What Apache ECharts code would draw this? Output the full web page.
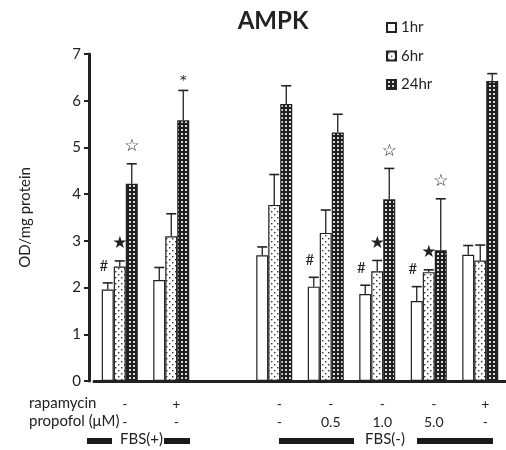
<!DOCTYPE html>
<html>
<head>
<meta charset="utf-8">
<script src="https://cdn.jsdelivr.net/npm/echarts@6/dist/echarts.min.js"></script>
<style>
  html, body { margin: 0; padding: 0; background: #fff; }
  #chart { width: 506px; height: 450px; }
</style>
</head>
<body>
<div id="chart"></div>
<script>
// groups (third slot is the empty gap between FBS(+) and FBS(-))
const rapamycin = ["-", "+", "", "-", "-", "-", "-", "+"];
const propofol = ["-", "-", "", "-", "0.5", "1.0", "5.0", "-"];
const seriesNames = ["1hr", "6hr", "24hr"];

const val1hr = [1.96, 2.16, "-", 2.69, 2.02, 1.86, 1.71, 2.70];
const val6hr = [2.45, 3.10, "-", 3.77, 3.17, 2.35, 2.33, 2.58];
const val24hr = [4.22, 5.58, "-", 5.93, 5.32, 3.89, 2.80, 6.42];

const err1hr = [2.10, 2.43, "-", 2.87, 2.22, 2.05, 2.02, 2.90];
const err6hr = [2.57, 3.58, "-", 4.42, 3.66, 2.58, 2.38, 2.91];
const err24hr = [4.65, 6.22, "-", 6.32, 5.71, 4.55, 3.90, 6.58];

const mark1hr = ["#", "", "", "", "#", "#", "#", ""];
const mark6hr = ["★", "", "", "", "", "★", "★", ""];
const mark24hr = ["☆", "*", "", "", "", "☆", "☆", ""];

const font = "Lato, 'Open Sans', sans-serif";

function makePattern(w, h, bg, fg, dots) {
  const c = document.createElement("canvas");
  c.width = w; c.height = h;
  const g = c.getContext("2d");
  g.fillStyle = bg;
  g.fillRect(0, 0, w, h);
  g.fillStyle = fg;
  dots.forEach(d => g.fillRect(d[0], d[1], d[2], d[3]));
  return { image: c, repeat: "repeat" };
}

const dotted = makePattern(6, 6, "#ffffff", "#333333", [[1, 1, 1.4, 1.4], [4, 4, 1.4, 1.4]]);
const dark = makePattern(4, 4, "#1e1e1e", "#d8d8d8", [[1, 1, 2, 2]]);
const fills = ["#ffffff", dotted, dark];

const vals = [val1hr, val6hr, val24hr];
const errs = [err1hr, err6hr, err24hr];
const marks = [mark1hr, mark6hr, mark24hr];

const errData = [];
for (let k = 0; k < 3; k++) {
  for (let i = 0; i < rapamycin.length; i++) {
    if (vals[k][i] === "-") continue;
    errData.push([i, k, vals[k][i], errs[k][i], marks[k][i]]);
  }
}

const chart = echarts.init(document.getElementById("chart"));

const barSeries = seriesNames.map((name, k) => ({
  name: name,
  type: "bar",
  data: vals[k],
  barWidth: 12,
  barGap: "0%",
  itemStyle: { color: fills[k], borderColor: "#222", borderWidth: 1.2 },
  emphasis: { disabled: true },
  z: 2
}));

const option = {
  animation: false,
  title: {
    text: "AMPK",
    left: 268,
    textAlign: "center",
    top: 4,
    textStyle: { fontFamily: font, fontSize: 24, fontWeight: "bold", color: "#222" }
  },
  legend: {
    orient: "vertical",
    left: 381,
    top: 15,
    itemWidth: 9,
    itemHeight: 9,
    itemGap: 13.5,
    icon: "rect",
    data: seriesNames,
    textStyle: { fontFamily: font, fontSize: 15, color: "#222" }
  },
  grid: { left: 94, right: -6, top: 54, bottom: 69 },
  xAxis: {
    type: "category",
    data: rapamycin.map((r, i) => r + "\n" + propofol[i]),
    axisLine: { lineStyle: { color: "#222", width: 3 } },
    axisTick: { show: false },
    axisLabel: {
      interval: 0,
      margin: 14,
      fontFamily: font,
      fontSize: 14,
      lineHeight: 18,
      color: "#222",
      padding: [0, 0, 0, 10]
    }
  },
  yAxis: {
    type: "value",
    min: 0,
    max: 7,
    interval: 1,
    offset: 5,
    name: "OD/mg protein",
    nameLocation: "middle",
    nameGap: 56,
    nameTextStyle: { fontFamily: font, fontSize: 15, color: "#222" },
    axisLine: { show: true, lineStyle: { color: "#222", width: 3 } },
    axisTick: { show: true, length: 5, lineStyle: { color: "#222", width: 2 } },
    axisLabel: { fontFamily: font, fontSize: 15, color: "#222", margin: 8 },
    splitLine: { show: false }
  },
  series: barSeries.concat([{
    type: "custom",
    data: errData,
    z: 3,
    silent: true,
    encode: { x: 0, y: 3 },
    renderItem: function (params, api) {
      const cat = api.value(0);
      const k = api.value(1);
      const dx = (k - 1) * 12;
      const base = api.coord([cat, api.value(2)]);
      const top = api.coord([cat, api.value(3)]);
      const x = base[0] + dx;
      const children = [
        { type: "line", shape: { x1: x, y1: base[1], x2: x, y2: top[1] },
          style: { stroke: "#222", lineWidth: 1.3 } },
        { type: "line", shape: { x1: x - 5, y1: top[1], x2: x + 5, y2: top[1] },
          style: { stroke: "#222", lineWidth: 1.6 } }
      ];
      const m = errData[params.dataIndex][4];
      if (m) {
        const isHash = m === "#";
        children.push({
          type: "text",
          x: x + (isHash ? -4 : 0),
          y: top[1] - (m === "*" ? 10 : 17),
          style: {
            text: m,
            fontFamily: m === "#" ? font : "DejaVu Sans, sans-serif",
            fontSize: m === "*" ? 13 : (isHash ? 15 : 17),
            fill: "#222",
            align: "center",
            verticalAlign: "middle"
          }
        });
      }
      return { type: "group", children: children };
    }
  }]),
  graphic: [
    { type: "text", left: 29, top: 396, style: { text: "rapamycin", font: "15px " + font, fill: "#222" } },
    { type: "text", left: 29, top: 414, style: { text: "propofol (μM)", font: "15px " + font, fill: "#222" } },
    { type: "rect", shape: { x: 87, y: 438, width: 25, height: 6 }, style: { fill: "#1a1a1a" } },
    { type: "text", left: 120, top: 432, style: { text: "FBS(+)", font: "15px " + font, fill: "#222" } },
    { type: "rect", shape: { x: 164, y: 438, width: 26, height: 6 }, style: { fill: "#1a1a1a" } },
    { type: "rect", shape: { x: 279, y: 438, width: 75, height: 6 }, style: { fill: "#1a1a1a" } },
    { type: "text", left: 365, top: 432, style: { text: "FBS(-)", font: "15px " + font, fill: "#222" } },
    { type: "rect", shape: { x: 417, y: 438, width: 76, height: 6 }, style: { fill: "#1a1a1a" } }
  ]
};

chart.setOption(option);
</script>
</body>
</html>
